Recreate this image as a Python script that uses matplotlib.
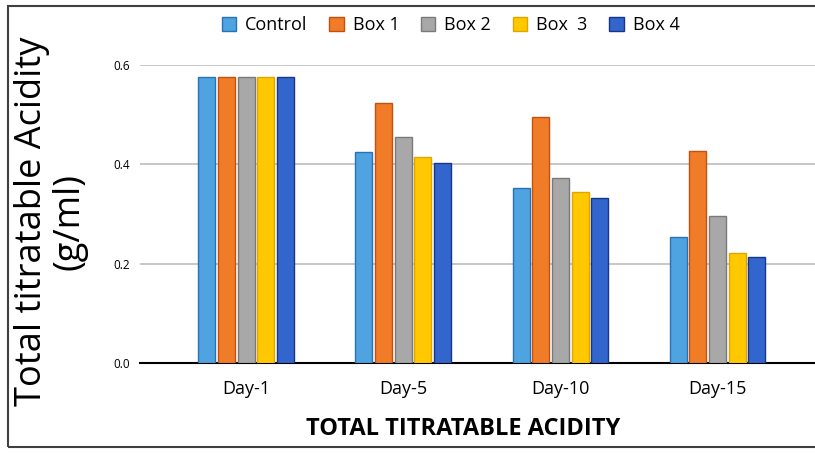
import numpy as np
import matplotlib.pyplot as plt
from matplotlib.patches import Rectangle

plt.rcParams['font.family'] = ['Open Sans', 'DejaVu Sans']

days = ['Day-1', 'Day-5', 'Day-10', 'Day-15']
series = ['Control', 'Box 1', 'Box 2', 'Box  3', 'Box 4']
control = [0.575, 0.425, 0.353, 0.254]
box1 = [0.575, 0.524, 0.496, 0.427]
box2 = [0.575, 0.455, 0.373, 0.295]
box3 = [0.575, 0.414, 0.344, 0.222]
box4 = [0.575, 0.403, 0.333, 0.214]

colors = ['#4EA3E0', '#F07C28', '#A8A8A8', '#FFC800', '#3366CC']
edges = ['#2A72B5', '#C4500F', '#7A7A7A', '#E0A500', '#16368A']

fig = plt.figure(figsize=(8.15, 4.54), dpi=100)
ax = fig.add_axes([140 / 815, 1 - 363 / 454, 1 - 140 / 815, (363 - 65) / 454])

x = np.arange(len(days))
pitch = 0.125
width = 0.108
for i, vals in enumerate([control, box1, box2, box3, box4]):
    ax.bar(x + (i - 2) * pitch, vals, width, color=colors[i], edgecolor=edges[i],
           linewidth=1.0, label=series[i], zorder=3)

ax.set_ylim(0, 0.6)
ax.set_xlim(-0.675, 3.62)
ax.set_yticks([0.0, 0.2, 0.4, 0.6])
ax.set_yticklabels(['0.0', '0.2', '0.4', '0.6'], fontsize=8.5)
ax.set_xticks(x)
ax.set_xticklabels(days, fontsize=13)
ax.tick_params(axis='both', length=0)
ax.tick_params(axis='y', pad=7)
ax.tick_params(axis='x', pad=12)
ax.yaxis.grid(True, color='#BDBDBD', linewidth=1.2, zorder=0)
for s in ['top', 'right', 'left']:
    ax.spines[s].set_visible(False)
ax.spines['bottom'].set_color('black')
ax.spines['bottom'].set_linewidth(1.5)

fig.text(0.062, 0.513, 'Total titratable Acidity\n(g/ml)', rotation=90,
         ha='center', va='center', fontsize=26, linespacing=1.05)
fig.text(0.568, 0.055, 'TOTAL TITRATABLE ACIDITY', ha='center', va='center',
         fontsize=17, fontweight='bold')

fig.legend(loc='center', bbox_to_anchor=(0.553, 0.945), ncol=5, frameon=False,
           fontsize=13, handlelength=0.8, handleheight=0.8, handletextpad=0.5,
           columnspacing=1.2)

fig.patches.append(Rectangle((8 / 815, 1 - 447 / 454), 1.0, (447 - 6) / 454,
                             transform=fig.transFigure, fill=False,
                             edgecolor='#404040', linewidth=1.5))

fig.savefig('out.png', dpi=100)
